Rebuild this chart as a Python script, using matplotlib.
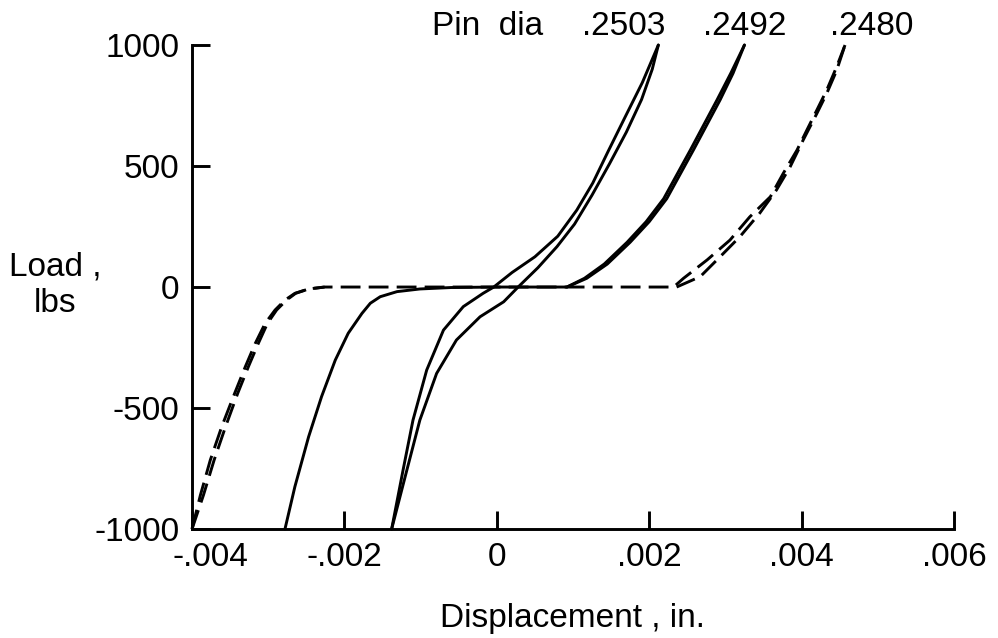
import matplotlib.pyplot as plt
from matplotlib.transforms import ScaledTranslation

plt.rcParams['font.family'] = ['Liberation Sans', 'DejaVu Sans']

# displacement in thousandths of an inch, load in lbs

# pin dia .2480 (dashed) - left side, two nearly coincident branches
d2480_left_y = [-1000, -860, -715, -577, -439, -329, -233, -150, -95, -54, -26, -8, 0]
d2480_left_x1 = [-4.00, -3.89, -3.76, -3.61, -3.44, -3.30, -3.17, -3.04, -2.91, -2.78, -2.65, -2.47, -2.26]
d2480_left_x2 = [-4.00, -3.85, -3.71, -3.56, -3.40, -3.26, -3.13, -3.01, -2.89, -2.76, -2.64, -2.47, -2.26]
# flat part, then right side
d2480_right_x1 = [2.32, 2.45, 2.76, 3.06, 3.32, 3.59, 3.76, 3.94, 4.07, 4.20, 4.33, 4.46, 4.57]
d2480_right_y1 = [0, 36, 112, 194, 290, 373, 470, 566, 649, 731, 814, 910, 1000]
d2480_right_x2 = [2.36, 2.67, 2.93, 3.19, 3.45, 3.67, 3.85, 4.02, 4.20, 4.33, 4.46, 4.57]
d2480_right_y2 = [0, 43, 125, 208, 305, 401, 497, 607, 717, 800, 895, 1000]

# pin dia .2492 (solid)
d2492_left_x = [-2.78, -2.65, -2.47, -2.30, -2.12, -1.95, -1.77, -1.66, -1.53, -1.31, -1.01, -0.60, 0.00, 0.92]
d2492_left_y = [-1000, -825, -619, -453, -302, -191, -109, -67, -40, -19, -8, -2, 0, 0]
d2492_right_y = [0, 36, 95, 185, 270, 365, 566, 773, 883, 1000]
d2492_right_x1 = [0.92, 1.18, 1.45, 1.75, 2.00, 2.23, 2.58, 2.93, 3.10, 3.25]
d2492_right_x2 = [0.92, 1.15, 1.41, 1.71, 1.96, 2.19, 2.54, 2.89, 3.07, 3.25]

# pin dia .2503 (solid loop)
d2503_a_x = [-1.38, -1.23, -1.10, -0.92, -0.70, -0.44, -0.18, -0.04, 0.20, 0.50, 0.80, 1.05, 1.26, 1.46, 1.68, 1.91, 2.12]
d2503_a_y = [-1000, -756, -550, -343, -178, -81, -26, 0, 60, 125, 210, 318, 430, 560, 700, 845, 1000]
d2503_b_x = [-1.38, -1.18, -1.01, -0.79, -0.53, -0.22, 0.09, 0.28, 0.54, 0.79, 1.02, 1.25, 1.48, 1.70, 1.90, 2.04, 2.12]
d2503_b_y = [-1000, -756, -550, -357, -219, -123, -61, 0, 80, 167, 260, 380, 510, 640, 775, 900, 1000]

x_ticks = [-4, -2, 0, 2, 4, 6]
x_labels = ['-.004', '-.002', '0', '.002', '.004', '.006']
y_ticks = [-1000, -500, 0, 500, 1000]
y_labels = ['-1000', '-500', '0', '500', '1000']
pin_labels = ['.2503', '.2492', '.2480']

fig = plt.figure(figsize=(9.98, 6.38), dpi=100)
ax = fig.add_axes([0.1924, 0.1708, 0.7635, 0.7586])

lw = 2.1
fs = 24
dash = (0, (6.8, 2.8))
solid = dict(color='black', lw=lw, clip_on=False, solid_capstyle='round', solid_joinstyle='round')
dashed = dict(color='black', lw=lw, ls=dash, clip_on=False)

# .2480: left branch -> flat -> right branch as one dashed path
ax.plot(d2480_left_x1 + d2480_right_x1, d2480_left_y + d2480_right_y1, **dashed)
ax.plot(d2480_left_x2, d2480_left_y, **dashed)
ax.plot(d2480_right_x2, d2480_right_y2, **dashed)

ax.plot(d2492_left_x + d2492_right_x1, d2492_left_y + d2492_right_y, **solid)
ax.plot(d2492_right_x2, d2492_right_y, **solid)

ax.plot(d2503_a_x, d2503_a_y, **solid)
ax.plot(d2503_b_x, d2503_b_y, **solid)

ax.set_xlim(-4, 6)
ax.set_ylim(-1000, 1000)
ax.set_xticks(x_ticks)
ax.set_xticklabels(x_labels)
ax.set_yticks(y_ticks)
ax.set_yticklabels(y_labels)
ax.tick_params(direction='in', length=13, width=lw, labelsize=fs)
ax.tick_params(axis='x', pad=9)
ax.tick_params(axis='y', pad=9)
for s in ['top', 'right']:
    ax.spines[s].set_visible(False)
for s in ['left', 'bottom']:
    ax.spines[s].set_linewidth(lw)

# first x label sits to the right of its tick, clear of -1000
first = ax.get_xticklabels()[0]
first.set_transform(first.get_transform() + ScaledTranslation(0.18, 0, fig.dpi_scale_trans))

fig.text(0.055, 0.553, 'Load ,\nlbs', ha='center', va='center', fontsize=fs, linespacing=1.2)
fig.text(0.574, 0.0172, 'Displacement , in.', ha='center', va='baseline', fontsize=fs)

fig.text(0.433, 0.945, 'Pin  dia', ha='left', va='baseline', fontsize=fs)
for xpos, lab in zip([0.625, 0.7465, 0.873], pin_labels):
    fig.text(xpos, 0.945, lab, ha='center', va='baseline', fontsize=fs)

fig.savefig('out.png', dpi=100)
